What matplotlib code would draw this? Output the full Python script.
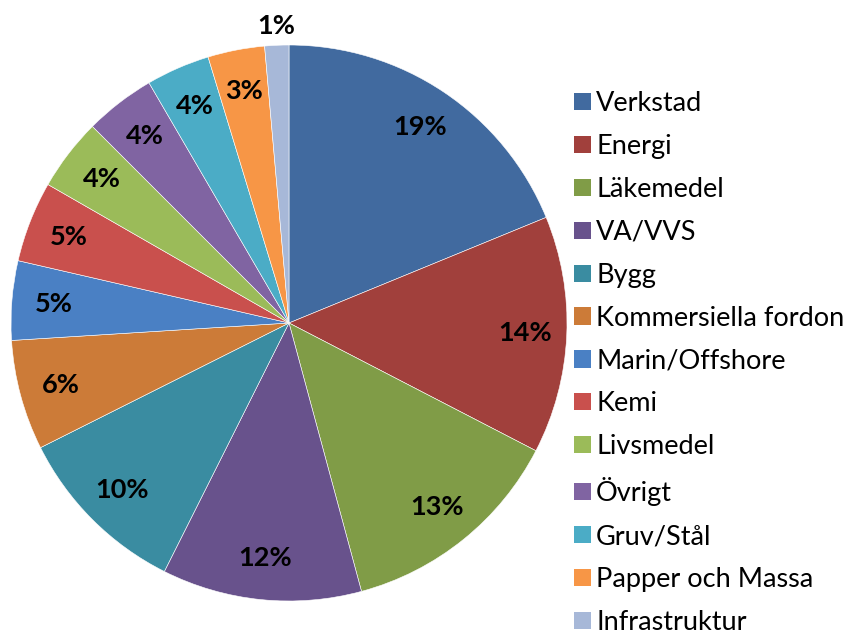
import numpy as np
import matplotlib
matplotlib.use("Agg")
import matplotlib.pyplot as plt
from matplotlib.patches import Patch

# sector names and shares (percent)
sectors = ["Verkstad", "Energi", "Läkemedel", "VA/VVS", "Bygg",
           "Kommersiella fordon", "Marin/Offshore", "Kemi", "Livsmedel",
           "Övrigt", "Gruv/Stål", "Papper och Massa", "Infrastruktur"]
shares = [18.8, 13.8, 13.2, 11.6, 10.2, 6.4, 4.6, 4.7, 4.2, 4.1, 3.7, 3.3, 1.4]
colors = ["#416a9f", "#a1403c", "#809c47", "#68528c", "#3a8ca1", "#cc7b38",
          "#4a80c4", "#c9504d", "#9bbb59", "#8064a2", "#4bacc6", "#f79646",
          "#a7b8d8"]

plt.rcParams['font.family'] = ['Lato', 'DejaVu Sans']

fig = plt.figure(figsize=(8.49, 6.35), dpi=100)
ax = fig.add_axes([11 / 849, 34 / 635, 556 / 849, 556 / 635])

wedges, texts, autotexts = ax.pie(
    shares, colors=colors, startangle=90, counterclock=False,
    autopct=lambda p: "%d%%" % round(p), pctdistance=0.85,
    wedgeprops=dict(edgecolor="white", linewidth=0.4),
    textprops=dict(fontsize=19.5, fontweight="bold", color="black"))

# the smallest slice gets its label outside
ang = np.deg2rad((wedges[-1].theta1 + wedges[-1].theta2) / 2)
autotexts[-1].set_position((1.07 * np.cos(ang), 1.07 * np.sin(ang)))

ax.set_xlim(-1, 1)
ax.set_ylim(-1, 1)
ax.set_aspect("equal")

handles = [Patch(facecolor=c, edgecolor="none") for c in colors]
fig.legend(handles, sectors, loc="center left",
           bbox_to_anchor=(550 / 849, 1 - 363 / 635), frameon=False,
           fontsize=19.5, handlelength=0.6, handleheight=0.6,
           handletextpad=0.2, labelspacing=0.66)

fig.savefig("out.png", dpi=100)
